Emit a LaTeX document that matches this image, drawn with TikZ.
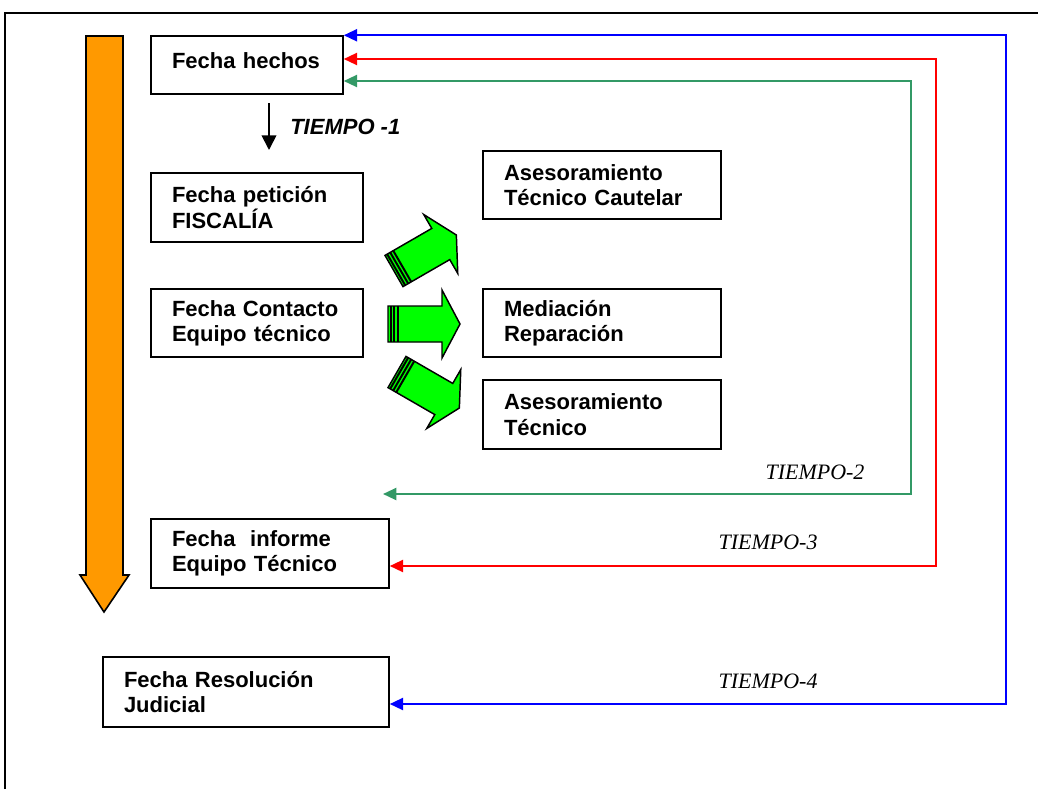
\documentclass[tikz,border=0pt]{standalone}
\usepackage{fontspec}
\setmainfont{Liberation Serif}
\setsansfont{Liberation Sans}
\usetikzlibrary{arrows.meta}
\definecolor{orangeA}{HTML}{FF9900}
\definecolor{greenA}{HTML}{00FF00}
\definecolor{seaG}{HTML}{339966}
\definecolor{blueA}{HTML}{0000FF}
\definecolor{redA}{HTML}{FF0000}
\newcommand{\garrow}[3]{%
  \begin{scope}[shift={(#1,#2)},rotate=#3]
    \draw[line width=1.1pt,fill=greenA,line join=miter]
      (0,-18) -- (54,-18) -- (54,-34) -- (72,0) -- (54,34) -- (54,18) -- (0,18) -- cycle;
    \draw[line width=1.5pt] (2.5,-18) -- (2.5,18);
    \draw[line width=1.5pt] (6,-18) -- (6,18);
    \draw[line width=1.5pt] (9.5,-18) -- (9.5,18);
  \end{scope}}
\tikzset{
  box/.style={draw,line width=1.1pt,fill=white,align=left,inner xsep=15.75pt,inner ysep=0pt,
    font=\sffamily\bfseries\fontsize{16.5}{19}\selectfont},
  conn/.style={line width=1.6pt,{Triangle[length=10pt,width=9pt]}-{Triangle[length=10pt,width=9pt]}},
  tlabel/.style={font=\rmfamily\itshape\fontsize{16.5}{19}\selectfont}
}
\begin{document}
\begin{tikzpicture}[x=0.75pt,y=-0.75pt]
\useasboundingbox (0,0) rectangle (1038,789);
% frame
\draw[line width=1.5pt] (5,789) -- (5,13) -- (1038,13);
% orange timeline arrow
\draw[line width=1.2pt,fill=orangeA,line join=miter]
  (86,36) -- (123,36) -- (123,575) -- (129,575) -- (104,612) -- (80,575) -- (86,575) -- cycle;
% boxes
\node[box,text width=112.5pt,minimum height=43.5pt] (A) at (247,65) {\raisebox{7pt}{Fecha hechos}};
\node[box,text width=127.5pt,minimum height=51.75pt] (B) at (257,207.5) {Fecha petición\\FISCALÍA};
\node[box,text width=127.5pt,minimum height=51pt] (C) at (257,323) {Fecha Contacto\\Equipo técnico};
\node[box,text width=147pt,minimum height=51pt] (D) at (602,185) {Asesoramiento\\Técnico Cautelar};
\node[box,text width=147pt,minimum height=51pt] (E) at (602,323) {Mediación\\Reparación};
\node[box,text width=147pt,minimum height=51.75pt] (F) at (602,414.5) {Asesoramiento\\Técnico};
\node[box,text width=147pt,minimum height=51.75pt] (G) at (270,553.5) {Fecha\ \ informe\\Equipo Técnico};
\node[box,text width=183pt,minimum height=52.5pt] (H) at (246,692) {Fecha Resolución\\Judicial};
% tiempo -1
\coordinate (t1a) at (269,103);
\coordinate (t1b) at (269,150);
\draw[line width=1.3pt,-{Triangle[length=11pt,width=11pt]}] (t1a) -- (t1b);
\node[anchor=west,inner sep=0pt,font=\sffamily\bfseries\itshape\fontsize{16.5}{19}\selectfont] (T1) at (290,127) {TIEMPO -1};
% green block arrows
\garrow{394}{271}{30}
\garrow{388}{324}{0}
\garrow{397}{372}{-30}
% colored connectors
\coordinate (gend) at (383,494);
\draw[conn,blueA] (A.north east) -| (1006,704) -- (H.east |- 0,704);
\draw[conn,redA] (A.east |- 0,59) -| (936,566) -- (G.east |- 0,566);
\draw[conn,seaG] (A.east |- 0,81) -| (911,494) -- (gend);
% labels
\node[tlabel] (T2) at (815,472) {TIEMPO-2};
\node[tlabel] (T3) at (768,542) {TIEMPO-3};
\node[tlabel] (T4) at (768,681) {TIEMPO-4};
\end{tikzpicture}
\end{document}
